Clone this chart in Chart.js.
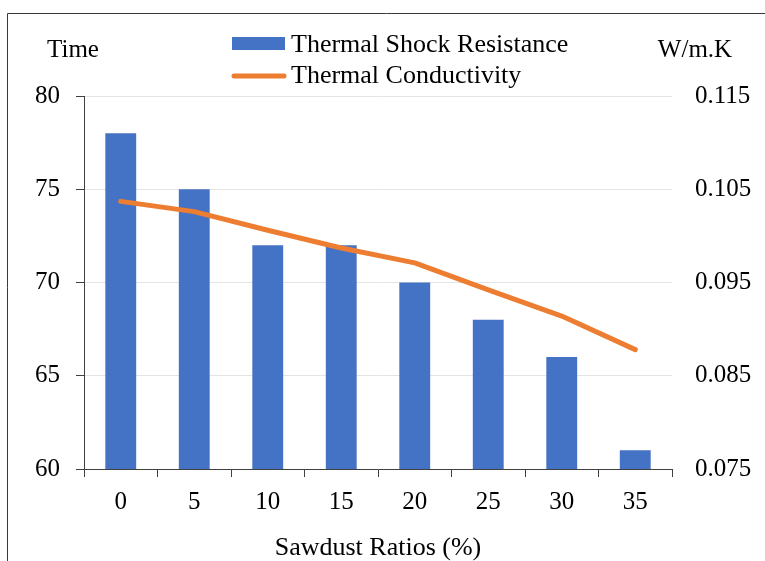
<!DOCTYPE html>
<html>
<head>
<meta charset="utf-8">
<script src="https://cdn.jsdelivr.net/npm/chart.js@4"></script>
<style>
  html, body { margin: 0; padding: 0; background: #fff; }
  #wrap { width: 765px; height: 561px; }
</style>
</head>
<body>
<div id="wrap"><canvas id="chart" width="765" height="561"></canvas></div>
<script>
const ratios = ['0', '5', '10', '15', '20', '25', '30', '35'];
const shockResistance = [78, 75, 72, 72, 70, 68, 66, 61];
const conductivity = [0.1037, 0.1026, 0.1006, 0.0987, 0.0971, 0.0942, 0.0914, 0.0878];
const leftTicks = [60, 65, 70, 75, 80];
const rightTicks = [0.075, 0.085, 0.095, 0.105, 0.115];

const FONT = "'Liberation Serif', 'Times New Roman', serif";
const BLUE = '#4472C4';
const ORANGE = '#ED7D31';

// frame, axis units and legend drawn on top of the canvas
const extras = {
  id: 'extras',
  afterDraw(chart) {
    const ctx = chart.ctx;
    ctx.save();
    ctx.strokeStyle = '#3a3a3a';
    ctx.lineWidth = 1;
    ctx.beginPath();
    ctx.moveTo(7.5, 561);
    ctx.lineTo(7.5, 13.5);
    ctx.lineTo(765, 13.5);
    ctx.stroke();

    ctx.fillStyle = '#000';
    ctx.font = '25px ' + FONT;
    ctx.textBaseline = 'middle';
    ctx.textAlign = 'center';
    ctx.fillText('Time', 73, 50);
    ctx.fillText('W/m.K', 695, 50);

    // legend
    ctx.font = '26px ' + FONT;
    ctx.textAlign = 'left';
    ctx.fillStyle = BLUE;
    ctx.fillRect(232, 37, 53, 13);
    ctx.strokeStyle = ORANGE;
    ctx.lineWidth = 5;
    ctx.lineCap = 'round';
    ctx.beginPath();
    ctx.moveTo(234, 76);
    ctx.lineTo(284, 76);
    ctx.stroke();
    ctx.fillStyle = '#000';
    ctx.fillText(chart.data.datasets[1].label, 291, 45);
    ctx.fillText(chart.data.datasets[0].label, 291, 76);
    ctx.restore();
  }
};

new Chart(document.getElementById('chart'), {
  type: 'bar',
  data: {
    labels: ratios,
    datasets: [
      {
        type: 'line',
        label: 'Thermal Conductivity',
        data: conductivity,
        yAxisID: 'y1',
        borderColor: ORANGE,
        borderWidth: 5,
        borderCapStyle: 'round',
        borderJoinStyle: 'round',
        pointRadius: 0,
        tension: 0,
        order: 0
      },
      {
        label: 'Thermal Shock Resistance',
        data: shockResistance,
        yAxisID: 'y',
        backgroundColor: BLUE,
        barPercentage: 0.42,
        categoryPercentage: 1,
        order: 1
      }
    ]
  },
  options: {
    responsive: false,
    animation: false,
    layout: { padding: { top: 96, left: 0, right: 0, bottom: 0 } },
    plugins: { legend: { display: false }, tooltip: { enabled: false } },
    scales: {
      x: {
        grid: { offset: true, drawOnChartArea: false, tickLength: 8, tickColor: '#404040' },
        border: { color: '#404040' },
        ticks: { color: '#000', font: { family: FONT, size: 25 }, padding: 10 },
        title: { display: true, text: 'Sawdust Ratios (%)', color: '#000', font: { family: FONT, size: 26 }, padding: { top: 8, bottom: -3 } },
        afterFit(scale) { scale.height = 92; }
      },
      y: {
        position: 'left',
        min: 60,
        max: 80,
        afterBuildTicks(scale) { scale.ticks = leftTicks.map(v => ({ value: v })); },
        grid: { color: '#e4e4e4', tickLength: 8, tickColor: '#404040' },
        border: { color: '#404040' },
        ticks: { color: '#000', font: { family: FONT, size: 25 }, padding: 16 },
        afterFit(scale) { scale.width = 84; }
      },
      y1: {
        position: 'right',
        min: 0.075,
        max: 0.115,
        afterBuildTicks(scale) { scale.ticks = rightTicks.map(v => ({ value: v })); },
        grid: { display: false, drawTicks: false },
        border: { display: false },
        ticks: { color: '#000', font: { family: FONT, size: 25 }, padding: 23, callback: v => Number(v).toFixed(3) },
        afterFit(scale) { scale.width = 93; }
      }
    }
  },
  plugins: [extras]
});
</script>
</body>
</html>
